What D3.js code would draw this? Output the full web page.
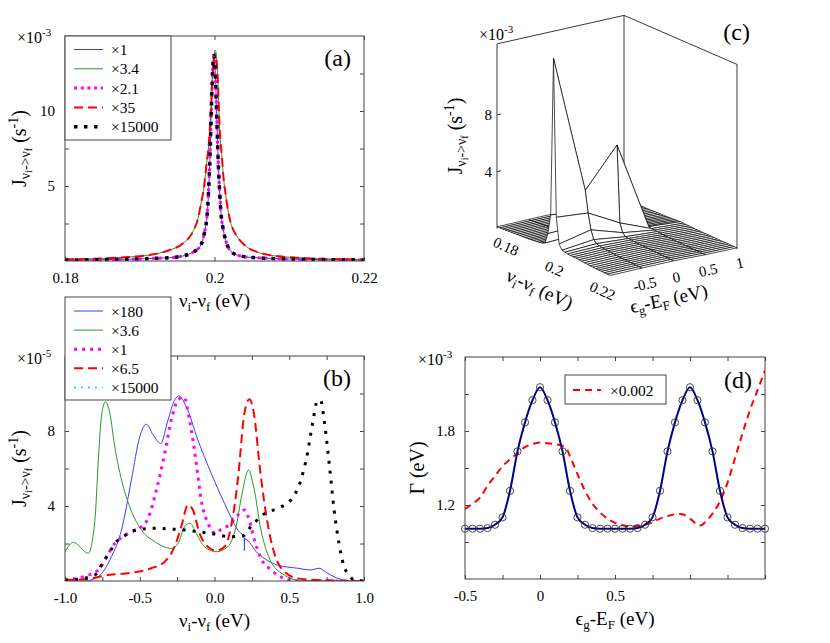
<!DOCTYPE html>
<html><head><meta charset="utf-8">
<script src="https://cdn.jsdelivr.net/npm/d3@7"></script>
<style>
body{margin:0;background:#fff}
svg{display:block}
svg text, svg tspan{font-family:"Liberation Serif","Times New Roman",Times,"DejaVu Serif",serif !important;fill:#000;white-space:pre}
</style>
</head><body>
<svg id="chart" width="830" height="643"></svg>
<script>
// ---------------- DATA ----------------
// Panel (a): narrow profile (x1, x2.1, x15000) and wide profile (x3.4, x35)
const aNuNarrow = [0.180,0.185,0.190,0.192,0.194,0.195,0.196,0.197,0.1975,0.198,0.1984,0.1987,0.199,0.1992,0.1994,0.1996,0.1998,0.1999,0.2001,0.2003,0.2005,0.2007,0.2009,0.2011,0.2014,0.2018,0.2023,0.203,0.204,0.2055,0.207,0.210,0.215,0.220];
const aBlue    = [0.06,0.09,0.14,0.18,0.22,0.27,0.36,0.55,0.70,0.92,1.35,2.0,3.0,4.6,7.0,10.5,13.2,13.7,12.6,9.6,6.6,4.5,3.0,2.3,1.55,0.95,0.6,0.4,0.29,0.22,0.18,0.13,0.09,0.07];
const aMagenta = [0.06,0.09,0.14,0.18,0.22,0.27,0.36,0.55,0.70,0.92,1.35,2.0,3.0,4.6,7.0,10.5,13.2,13.7,12.6,9.6,6.6,4.5,3.0,2.3,1.55,0.95,0.6,0.4,0.29,0.22,0.18,0.13,0.09,0.07];
const aBlack   = [0.06,0.09,0.14,0.18,0.22,0.27,0.36,0.55,0.70,0.92,1.35,2.0,3.0,4.6,7.0,10.5,13.2,13.7,12.6,9.6,6.6,4.5,3.0,2.3,1.55,0.95,0.6,0.4,0.29,0.22,0.18,0.13,0.09,0.07];
const aNuWide = [0.180,0.185,0.188,0.1913,0.194,0.1958,0.1971,0.1978,0.1982,0.1986,0.1989,0.1992,0.1995,0.1998,0.2001,0.2004,0.2007,0.2010,0.2012,0.2015,0.2018,0.2022,0.2029,0.2040,0.2056,0.2073,0.210,0.215,0.220];
const aGreen = [0.1,0.17,0.25,0.4,0.73,1.18,1.95,2.85,3.85,4.95,6.3,7.6,9.8,12.8,14.05,12.6,8.7,6.9,5.6,4.4,3.4,2.5,1.73,1.07,0.62,0.4,0.25,0.14,0.1];
const aRed   = [0.1,0.17,0.25,0.4,0.73,1.18,1.95,2.85,3.85,4.95,6.3,7.6,9.8,12.7,13.8,12.5,8.7,6.9,5.6,4.4,3.4,2.5,1.73,1.07,0.62,0.4,0.25,0.14,0.1];
const aLegend = ["×1","×3.4","×2.1","×35","×15000"];
const aXTicks = [0.18,0.2,0.22], aXTickLabels = ["0.18","0.2","0.22"];
const aYTicks = [2.5,5,7.5,10,12.5], aYTickLabels = [5,10];

// Panel (b)
const bNuBlue = [-1.0,-0.867,-0.778,-0.689,-0.622,-0.556,-0.5,-0.456,-0.411,-0.36,-0.311,-0.267,-0.238,-0.189,-0.111,-0.022,0.067,0.156,0.199,0.2,0.201,0.289,0.422,0.556,0.644,0.7,0.756,0.844,0.911,1.0];
const bBlue   = [0,0,0.23,1.3,2.72,5.39,7.7,8.36,7.8,7.34,8.59,9.65,9.87,9.3,7.52,5.74,4.14,2.72,2.3,1.62,2.25,1.48,0.85,0.68,0.59,0.68,0.41,0.09,0,0];
const bNuGreen = [-1,-0.944,-0.844,-0.8,-0.778,-0.756,-0.729,-0.7,-0.667,-0.622,-0.567,-0.489,-0.4,-0.289,-0.244,-0.2,-0.164,-0.122,-0.067,0.011,0.089,0.144,0.189,0.227,0.262,0.311,0.378,0.467,0.556,0.7,1.0];
const bGreen   = [1.56,2.06,1.48,3.25,6.3,8.8,9.56,8.94,7.16,5.39,3.96,2.72,2.1,1.74,2.0,2.9,3.08,2.54,1.83,1.56,1.83,2.9,4.85,5.92,5.03,2.72,1.03,0.32,0.05,0.01,0];
const bNuMagenta = [-1,-0.878,-0.778,-0.667,-0.578,-0.489,-0.444,-0.389,-0.333,-0.289,-0.244,-0.204,-0.167,-0.122,-0.089,-0.044,0.011,0.044,0.1,0.156,0.2,0.233,0.267,0.311,0.378,0.467,0.556,0.7,1.0];
const bMagenta   = [0.05,0.23,0.59,2.0,2.54,2.9,3.34,4.85,6.8,8.59,9.65,9.8,8.59,6.28,4.32,3.08,2.54,2.76,2.99,3.52,3.79,3.25,2.19,1.21,0.59,0.14,0,0,0];
const bNuRed = [-1,-0.867,-0.711,-0.556,-0.422,-0.333,-0.267,-0.222,-0.178,-0.144,-0.1,-0.044,0.011,0.067,0.111,0.156,0.2,0.233,0.267,0.3,0.344,0.4,0.467,0.556,0.689,1.0];
const bRed   = [0.05,0.09,0.32,0.44,0.68,1.03,1.83,2.9,4.05,3.79,2.54,1.83,1.62,1.83,2.9,5.39,8.94,9.69,8.76,6.28,3.61,1.48,0.5,0.14,0.05,0];
const bNuBlack = [-1,-0.911,-0.8,-0.744,-0.7,-0.667,-0.611,-0.556,-0.5,-0.4,-0.289,-0.2,-0.111,0,0.1,0.189,0.244,0.322,0.422,0.511,0.578,0.622,0.656,0.689,0.711,0.733,0.767,0.8,0.833,0.867,0.9,0.933,1.0];
const bBlack   = [0.05,0.1,0.32,1.03,1.56,2.0,2.36,2.63,2.76,2.81,2.77,2.72,2.63,2.5,2.36,2.4,2.9,3.52,3.88,4.32,5.39,6.81,8.41,9.62,9.62,8.59,6.28,3.79,2.0,0.76,0.32,0.05,0];
const bLegend = ["×180","×3.6","×1","×6.5","×15000"];
const bXTicks = [-1,-0.75,-0.5,-0.25,0,0.25,0.5,0.75,1], bXTickLabels = {"-1":"-1.0","-0.5":"-0.5","0":"0.0","0.5":"0.5","1":"1.0"};
const bYTicks = [2,4,6,8,10], bYTickLabels = [4,8];

// Panel (c): surface J(nu, eps)
const cNu = [0.180,0.181,0.182,0.183,0.184,0.185,0.186,0.187,0.188,0.189,0.190,0.191,0.192,0.193,0.194,0.195,0.196,0.197,0.198,0.199,0.200,0.201,0.202,0.203,0.204,0.205,0.206,0.207,0.208,0.209,0.210,0.211,0.212,0.213,0.214,0.215,0.216,0.217,0.218,0.219,0.220];
const cEps = [-1,-0.5,0,0.5,1];
const cRowM10 = [0.12,0.13,0.14,0.15,0.16,0.17,0.18,0.19,0.20,0.21,0.22,0.23,0.25,0.27,0.29,0.32,0.36,0.45,1.2,2.6,13.7,2.6,0.8,0.45,0.40,0.37,0.35,0.33,0.32,0.30,0.28,0.26,0.24,0.22,0.20,0.19,0.18,0.17,0.16,0.15,0.14];
const cRowM05 = [0.14,0.15,0.16,0.17,0.18,0.19,0.20,0.21,0.22,0.23,0.25,0.27,0.29,0.31,0.34,0.38,0.43,0.55,1.3,2.4,3.9,2.4,1.3,0.7,0.5,0.42,0.38,0.36,0.34,0.32,0.30,0.28,0.26,0.24,0.22,0.21,0.20,0.19,0.18,0.17,0.16];
const cRow00  = [0.14,0.15,0.16,0.17,0.18,0.19,0.20,0.21,0.22,0.23,0.25,0.27,0.29,0.31,0.34,0.38,0.43,0.5,0.65,1.2,6.6,1.2,0.6,0.4,0.36,0.34,0.32,0.30,0.29,0.28,0.27,0.26,0.25,0.24,0.23,0.22,0.21,0.20,0.19,0.18,0.17];
const cRowP05 = [0.10,0.10,0.11,0.11,0.12,0.12,0.13,0.13,0.14,0.15,0.16,0.17,0.18,0.19,0.20,0.22,0.24,0.26,0.28,0.30,0.35,0.30,0.28,0.26,0.24,0.22,0.20,0.19,0.18,0.17,0.16,0.15,0.14,0.13,0.13,0.12,0.12,0.11,0.11,0.10,0.10];
const cRowP10 = [0.08,0.08,0.08,0.09,0.09,0.09,0.10,0.10,0.10,0.11,0.11,0.12,0.12,0.13,0.13,0.14,0.15,0.16,0.17,0.18,0.20,0.18,0.17,0.16,0.15,0.14,0.13,0.13,0.12,0.12,0.11,0.11,0.10,0.10,0.10,0.09,0.09,0.09,0.08,0.08,0.08];
const cRows = [cRowM10,cRowM05,cRow00,cRowP05,cRowP10];
const cNuTicks = [0.18,0.2,0.22], cNuTickLabels = ["0.18","0.2","0.22"];
const cEpsTicks = [-0.5,0,0.5,1], cEpsTickLabels = ["-0.5","0","0.5","1"];
const cZTicks = [4,8];

// Panel (d)
const dEps = [-0.5,-0.45,-0.4,-0.35,-0.3,-0.25,-0.2,-0.15,-0.1,-0.05,0,0.05,0.1,0.15,0.2,0.25,0.3,0.35,0.4,0.45,0.5,0.55,0.6,0.65,0.7,0.75,0.8,0.85,0.9,0.95,1.0,1.05,1.1,1.15,1.2,1.25,1.3,1.35,1.4,1.45,1.5];
const dGamma = [1.008,1.008,1.008,1.013,1.04,1.10,1.315,1.635,1.87,2.05,2.155,2.05,1.87,1.635,1.315,1.10,1.04,1.013,1.008,1.008,1.008,1.008,1.008,1.013,1.04,1.10,1.315,1.635,1.87,2.05,2.155,2.05,1.87,1.635,1.315,1.10,1.04,1.013,1.008,1.008,1.008];
const dEpsRed = [-0.5,-0.45,-0.4,-0.35,-0.3,-0.25,-0.2,-0.15,-0.1,-0.05,0,0.05,0.1,0.15,0.18,0.2,0.25,0.3,0.35,0.4,0.45,0.5,0.55,0.6,0.65,0.7,0.75,0.8,0.85,0.9,0.94,1.0,1.05,1.07,1.1,1.15,1.2,1.25,1.3,1.35,1.4,1.45,1.5];
const dRed = [1.168,1.21,1.26,1.355,1.435,1.515,1.57,1.62,1.67,1.693,1.707,1.70,1.693,1.68,1.65,1.595,1.45,1.315,1.21,1.14,1.09,1.055,1.035,1.028,1.03,1.04,1.06,1.09,1.11,1.125,1.128,1.09,1.04,1.034,1.06,1.13,1.23,1.38,1.58,1.78,1.97,2.13,2.29];
const dLegend = ["×0.002"];
const dXTicks = [-0.5,-0.25,0,0.25,0.5,0.75,1,1.25,1.5], dXTickLabels = {"-0.5":"-0.5","0":"0","0.5":"0.5"};
const dYTicks = [0.9,1.2,1.5,1.8,2.1], dYTickLabels = [1.2,1.8];

// ---------------- HELPERS ----------------
const FONT = "Liberation Serif, Times New Roman, serif";
const svg = d3.select("#chart");
const FR = "#444";
function rich(sel, x, y, parts, opts = {}) {
  const t = sel.append("text").attr("x", x).attr("y", y).attr("font-family", FONT)
    .attr("text-anchor", opts.anchor || "middle");
  if (opts.rotate != null) t.attr("transform", `rotate(${opts.rotate},${x},${y})`);
  parts.forEach(p => t.append("tspan").attr("font-size", p[1]).attr("dy", p[2] || 0).text(p[0]));
  return t;
}
const Jlabel = [["J",20,0],["ν",14,4],["i",10,2],["->ν",14,-2],["f",10,2],[" (s",20,-6],["-1",14,-8],[")",20,8]];
const NUlabel = [["ν",19,0],["i",13,4],["-ν",19,-4],["f",13,4],[" (eV)",19,-4]];
const EPSlabel = [["ϵ",19,0],["g",13,4],["-E",19,-4],["F",13,4],[" (eV)",19,-4]];

function frame(P, xDom, yDom, xTicks, xLabs, yTicks, yLabs, id) {
  const x = d3.scaleLinear().domain(xDom).range([P.x0, P.x1]);
  const y = d3.scaleLinear().domain(yDom).range([P.y1, P.y0]);
  const g = svg.append("g");
  svg.append("clipPath").attr("id", id).append("rect")
    .attr("x", P.x0).attr("y", P.y0).attr("width", P.x1 - P.x0).attr("height", P.y1 - P.y0);
  const axG = svg.append("g");
  const bx = d3.axisBottom(x).tickValues(xTicks).tickSizeInner(-4).tickSizeOuter(0)
    .tickFormat(d => xLabs[String(d)] !== undefined ? xLabs[String(d)] : "");
  axG.append("g").attr("transform", `translate(0,${P.y1})`).call(bx)
    .call(s => { s.attr("font-family", FONT); s.select(".domain").remove(); s.selectAll("line").attr("stroke", FR);
      s.selectAll("text").attr("font-size", 15).attr("dy", 0).attr("y", 22); });
  const tx = d3.axisTop(x).tickValues(xTicks).tickSizeInner(-4).tickSizeOuter(0).tickFormat("");
  axG.append("g").attr("transform", `translate(0,${P.y0})`).call(tx)
    .call(s => { s.select(".domain").remove(); s.selectAll("line").attr("stroke", FR); });
  const ly = d3.axisLeft(y).tickValues(yTicks).tickSizeInner(-4).tickSizeOuter(0)
    .tickFormat(d => yLabs.includes(d) ? String(d) : "");
  axG.append("g").attr("transform", `translate(${P.x0},0)`).call(ly)
    .call(s => { s.attr("font-family", FONT); s.select(".domain").remove(); s.selectAll("line").attr("stroke", FR);
      s.selectAll("text").attr("font-size", 15).attr("x", -10); });
  const ry = d3.axisRight(y).tickValues(yTicks).tickSizeInner(-4).tickSizeOuter(0).tickFormat("");
  axG.append("g").attr("transform", `translate(${P.x1},0)`).call(ry)
    .call(s => { s.select(".domain").remove(); s.selectAll("line").attr("stroke", FR); });
  axG.append("rect").attr("x", P.x0).attr("y", P.y0).attr("width", P.x1 - P.x0)
    .attr("height", P.y1 - P.y0).attr("fill", "none").attr("stroke", FR).attr("stroke-width", 1);
  const plot = g.append("g").attr("clip-path", `url(#${id})`);
  return { x, y, g, plot, axG };
}
function drawLine(sel, xs, ys, X, Y, style) {
  const pts = xs.map((v, i) => [v, ys[i]]);
  const line = d3.line().x(d => X(d[0])).y(d => Y(d[1])).curve(d3.curveMonotoneX);
  const p = sel.append("path").attr("d", line(pts)).attr("fill", "none");
  Object.entries(style).forEach(([k, v]) => p.attr(k, v));
  return p;
}
function legendBox(x0, y0, w, h, rows, styles, rowY0, dy, sx0, sx1, tx) {
  const g = svg.append("g");
  g.append("rect").attr("x", x0).attr("y", y0).attr("width", w).attr("height", h)
    .attr("fill", "#fff").attr("stroke", FR).attr("stroke-width", 1);
  rows.forEach((r, i) => {
    const yy = rowY0 + i * dy;
    const l = g.append("line").attr("x1", sx0).attr("x2", sx1).attr("y1", yy).attr("y2", yy);
    Object.entries(styles[i]).forEach(([k, v]) => l.attr(k, v));
    g.append("text").attr("x", tx).attr("y", yy + 5.5).attr("font-family", FONT)
      .attr("font-size", 15.5).text(r);
  });
}
function sciLabel(x, y, exp) {
  rich(svg, x, y, [["×10",16,0],[exp,11,-7]], { anchor: "start" });
}
function panelTag(x, y, s) {
  svg.append("text").attr("x", x).attr("y", y).attr("text-anchor", "end")
    .attr("font-family", FONT).attr("font-size", 24).text(s);
}

const S = {
  blue:   { stroke: "#3b3bff", "stroke-width": 1 },
  green:  { stroke: "#2a962a", "stroke-width": 1 },
  magA:   { stroke: "#ff00ff", "stroke-width": 3, "stroke-dasharray": "3,3.7" },
  red:    { stroke: "#ff0000", "stroke-width": 2, "stroke-dasharray": "9,5" },
  blackA: { stroke: "#000", "stroke-width": 3.5, "stroke-dasharray": "3.5,6.5" },
  magB:   { stroke: "#ff00ff", "stroke-width": 3, "stroke-dasharray": "3,5" },
  blackB: { stroke: "#000", "stroke-width": 3, "stroke-dasharray": "3,7" },
  cyan:   { stroke: "#33dddd", "stroke-width": 2, "stroke-dasharray": "2,5" },
  navy:   { stroke: "#000088", "stroke-width": 2 },
  redD:   { stroke: "#ff0000", "stroke-width": 2, "stroke-dasharray": "7,5" }
};

// ---------------- PANEL (a) ----------------
const PA = { x0: 65, x1: 364, y0: 36, y1: 261 };
const A = frame(PA, [0.18, 0.22], [0, 15], aXTicks,
  Object.fromEntries(aXTicks.map((t, i) => [String(t), aXTickLabels[i]])), aYTicks, aYTickLabels, "clipA");
drawLine(A.plot, aNuNarrow, aBlue, A.x, A.y, S.blue);
drawLine(A.plot, aNuWide, aGreen, A.x, A.y, S.green);
drawLine(A.plot, aNuNarrow, aMagenta, A.x, A.y, S.magA);
drawLine(A.plot, aNuWide, aRed, A.x, A.y, S.red);
drawLine(A.plot, aNuNarrow, aBlack, A.x, A.y, S.blackA);
legendBox(65, 36, 106, 104, aLegend, [S.blue, S.green, S.magA, S.red, S.blackA], 49.5, 19.3, 74, 103, 111);
sciLabel(17, 43, "-3");
panelTag(PA.x1 - 13, PA.y0 + 30, "(a)");
rich(svg, 26, (PA.y0 + PA.y1) / 2, Jlabel, { rotate: -90 });
rich(svg, 214.5, 307, NUlabel);

// ---------------- PANEL (b) ----------------
const PB = { x0: 65, x1: 364, y0: 356, y1: 581 };
const B = frame(PB, [-1, 1], [0, 12], bXTicks, bXTickLabels, bYTicks, bYTickLabels, "clipB");
drawLine(B.plot, bNuBlue, bBlue, B.x, B.y, S.blue);
drawLine(B.plot, bNuGreen, bGreen, B.x, B.y, S.green);
drawLine(B.plot, bNuMagenta, bMagenta, B.x, B.y, S.magB);
drawLine(B.plot, bNuRed, bRed, B.x, B.y, S.red);
drawLine(B.plot, bNuBlack, bBlack, B.x, B.y, S.blackB);
legendBox(65, 297, 106, 103, bLegend, [S.blue, S.green, S.magB, S.red, S.cyan], 311, 19.1, 74, 103, 111);
sciLabel(17, 364, "-5");
panelTag(PB.x1 - 13, PB.y0 + 30, "(b)");
rich(svg, 26, (PB.y0 + PB.y1) / 2, Jlabel, { rotate: -90 });
rich(svg, 214.5, 627, NUlabel);

// ---------------- PANEL (d) ----------------
const PD = { x0: 465, x1: 765, y0: 357, y1: 579 };
const D = frame(PD, [-0.5, 1.5], [0.6, 2.4], dXTicks, dXTickLabels, dYTicks, dYTickLabels, "clipD");
drawLine(D.plot, dEpsRed, dRed, D.x, D.y, S.redD);
drawLine(D.plot, dEps, dGamma, D.x, D.y, S.navy);
D.g.append("g").selectAll("circle").data(dEps.map((e, i) => [e, dGamma[i]])).join("circle")
  .attr("cx", d => D.x(d[0])).attr("cy", d => D.y(d[1])).attr("r", 3.6)
  .attr("fill", "none").attr("stroke", "#333").attr("stroke-width", 0.9);
legendBox(565, 375, 101, 29, dLegend, [S.redD], 390, 0, 573, 601, 610);
sciLabel(418, 365, "-3");
panelTag(PD.x1 - 13, PD.y0 + 31, "(d)");
rich(svg, 424, (PD.y0 + PD.y1) / 2, [["Γ (eV)",20,0]], { rotate: -90 });
rich(svg, 615, 625, EPSlabel);

// ---------------- PANEL (c): 3-D mesh ----------------
const C = svg.append("g");
const O = [497, 228.5];
const tNu = d3.scaleLinear().domain([0.18, 0.22]).range([0, 1]);
const tEps = d3.scaleLinear().domain([-1, 1]).range([0, 1]);
const zPx = d3.scaleLinear().domain([0, 1]).range([0, 14.2]);
const VNU = [113, 49], VEPS = [127, -28.5];
function P3(nu, eps, z) {
  const a = tNu(nu), b = tEps(eps);
  return [O[0] + a * VNU[0] + b * VEPS[0], O[1] + a * VNU[1] + b * VEPS[1] - zPx(z)];
}
const zTop = 13;
const boxC = { stroke: "#222", "stroke-width": 0.9, fill: "none" };
function seg(p, q) {
  const l = C.append("line").attr("x1", p[0]).attr("y1", p[1]).attr("x2", q[0]).attr("y2", q[1]);
  Object.entries(boxC).forEach(([k, v]) => l.attr(k, v));
}
seg(P3(0.18, -1, 0), P3(0.18, -1, zTop));
seg(P3(0.18, 1, 0), P3(0.18, 1, zTop));
seg(P3(0.22, 1, 0), P3(0.22, 1, zTop));
seg(P3(0.18, -1, zTop), P3(0.18, 1, zTop));
seg(P3(0.18, 1, zTop), P3(0.22, 1, zTop));
cZTicks.forEach(z => {
  const p = P3(0.18, -1, z);
  seg(p, [p[0] + 4, p[1] - 1]);
  C.append("text").attr("x", p[0] - 5).attr("y", p[1] + 5).attr("text-anchor", "end")
    .attr("font-family", FONT).attr("font-size", 15).text(z);
});
const quads = [];
for (let j = 0; j < cEps.length - 1; j++) {
  for (let i = 0; i < cNu.length - 1; i++) {
    const pts = [P3(cNu[i], cEps[j], cRows[j][i]), P3(cNu[i + 1], cEps[j], cRows[j][i + 1]),
                 P3(cNu[i + 1], cEps[j + 1], cRows[j + 1][i + 1]), P3(cNu[i], cEps[j + 1], cRows[j + 1][i])];
    const depth = P3((cNu[i] + cNu[i + 1]) / 2, (cEps[j] + cEps[j + 1]) / 2, 0)[1];
    quads.push({ pts, depth });
  }
}
quads.sort((a, b) => a.depth - b.depth);
C.append("g").selectAll("path").data(quads).join("path")
  .attr("d", d => "M" + d.pts.map(p => p.join(",")).join("L") + "Z")
  .attr("fill", "#fff").attr("stroke", "#000").attr("stroke-width", 0.7).attr("stroke-linejoin", "round");
const offX = d3.scaleLinear().domain([0.18, 0.22]).range([9, -7.5]);
const offY = d3.scaleLinear().domain([0.18, 0.22]).range([18, 13.5]);
cNuTicks.forEach((v, i) => {
  const p = P3(v, -1, 0), x = p[0] + offX(v), y = p[1] + offY(v);
  C.append("text").attr("x", x).attr("y", y + 5).attr("text-anchor", "middle")
    .attr("font-family", FONT).attr("font-size", 15).attr("transform", `rotate(24,${x},${y})`).text(cNuTickLabels[i]);
});
cEpsTicks.forEach((v, i) => {
  const p = P3(0.22, v, 0), x = p[0] + 3, y = p[1] + 14;
  C.append("text").attr("x", x).attr("y", y + 5).attr("text-anchor", "middle")
    .attr("font-family", FONT).attr("font-size", 15).attr("transform", `rotate(-12,${x},${y})`).text(cEpsTickLabels[i]);
});
rich(C, 537, 295, NUlabel, { rotate: 25 });
rich(C, 670, 305, EPSlabel, { rotate: -12 });
rich(C, 462, 136, Jlabel, { rotate: -90 });
sciLabel(479, 40, "-3");
panelTag(750, 40, "(c)");
</script>
</body></html>
